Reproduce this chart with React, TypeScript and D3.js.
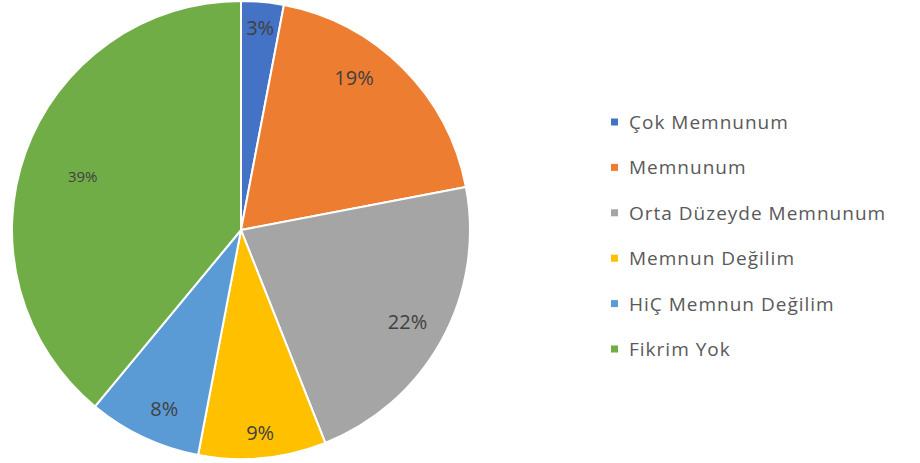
import React from "react";
import * as d3 from "d3";

const categories = ["Çok Memnunum", "Memnunum", "Orta Düzeyde Memnunum", "Memnun Değilim", "HiÇ Memnun Değilim", "Fikrim Yok"];
const values = [3, 19, 22, 9, 8, 39];
const colors = ["#4472C4", "#ED7D31", "#A5A5A5", "#FFC000", "#5B9BD5", "#70AD47"];

// layout-only tweaks for label placement (radius fraction, angle nudge in degrees, font size)
const labelRadiusFrac = [0.89, 0.83, 0.83, 0.89, 0.85, 0.73];
const labelAngleNudge = [0, -8.5, 0, 0, -2, -1];
const labelFontSize = [20, 20, 20, 20, 20, 15];

export default function App() {
  const W = 920, H = 463;
  const cx = 241, cy = 230, R = 229;
  const total = d3.sum(values);
  const pie = d3.pie<number>().sort(null).value((d) => d)(values);
  const arc = d3.arc<d3.PieArcDatum<number>>().innerRadius(0).outerRadius(R);

  const legendX = 611, legendY0 = 122, legendStep = 45.4;

  return (
    <svg width={W} height={H} style={{ position: "absolute", left: 0, top: 0, background: "#fff" }}
      fontFamily="'Open Sans', 'Noto Sans', sans-serif">
      <g transform={`translate(${cx},${cy})`}>
        {pie.map((p, i) => (
          <path key={i} d={arc(p) || ""} fill={colors[i]} stroke="#fff" strokeWidth={2} strokeLinejoin="round" />
        ))}
        {pie.map((p, i) => {
          const mid = (p.startAngle + p.endAngle) / 2 + (labelAngleNudge[i] * Math.PI) / 180;
          const r = R * labelRadiusFrac[i];
          const x = r * Math.sin(mid);
          const y = -r * Math.cos(mid);
          return (
            <text key={i} x={x} y={y} textAnchor="middle" dominantBaseline="central"
              fontSize={labelFontSize[i]} fill="#404040">
              {`${Math.round((values[i] / total) * 100)}%`}
            </text>
          );
        })}
      </g>
      <g>
        {categories.map((c, i) => (
          <g key={i} transform={`translate(${legendX},${legendY0 + i * legendStep})`}>
            <rect x={0} y={-3.5} width={7} height={7} fill={colors[i]} />
            <text x={18} y={0} dominantBaseline="central" fontSize={19} letterSpacing={1} fill="#595959">{c}</text>
          </g>
        ))}
      </g>
    </svg>
  );
}
